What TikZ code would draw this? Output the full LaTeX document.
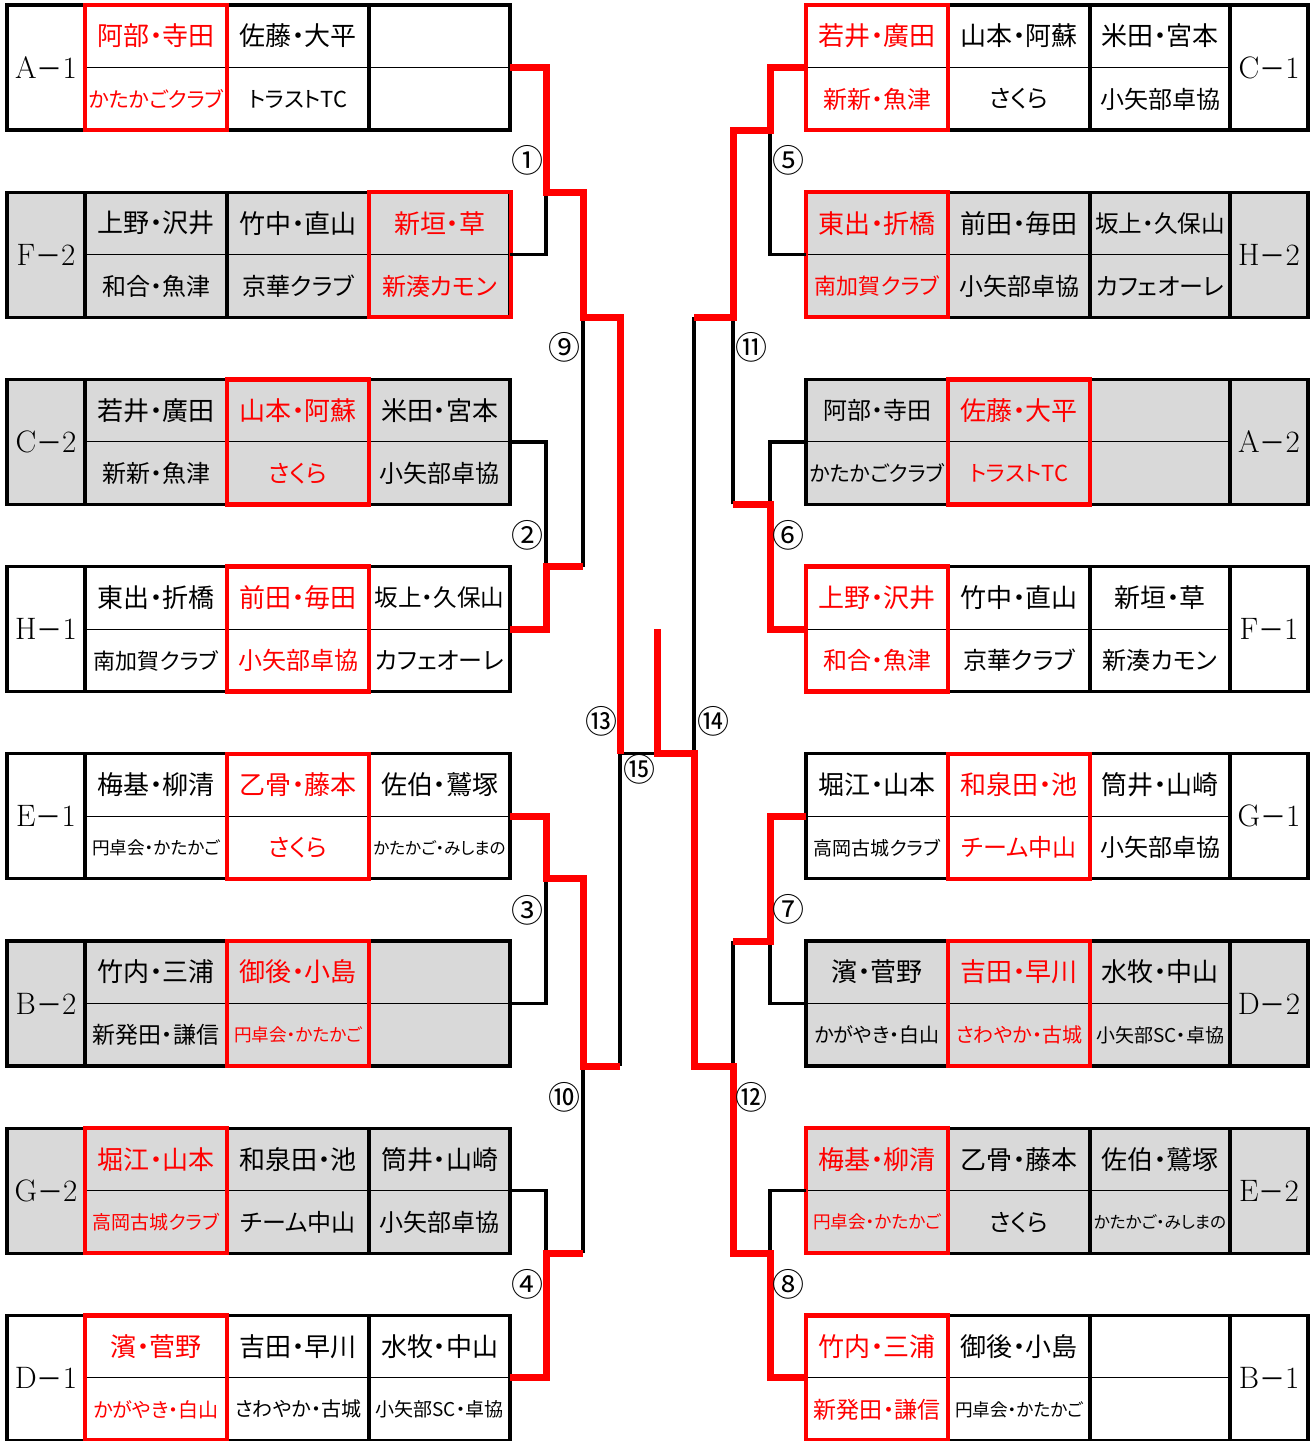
\documentclass[tikz,border=0pt]{standalone}
\usepackage{fontspec}
\newfontfamily\jp{Noto Sans CJK JP}[RawFeature=+palt]
\newfontfamily\jpc{Noto Sans CJK JP}
\newcommand\fz[1]{\fontsize{#1}{#1}\selectfont}
\definecolor{winred}{RGB}{255,0,0}
\definecolor{boxgray}{RGB}{217,217,217}
\tikzset{
  frame/.style={draw=black,line width=1.6pt},
  sepline/.style={draw=black,line width=0.5pt},
  winbox/.style={draw=winred,line width=2.2pt},
  blk/.style={draw=black,line width=1.6pt,line join=miter},
  rd/.style={draw=winred,line width=3.5pt,line join=miter},
  nm/.style={font=\jp\fz{13},inner sep=0pt},
  lab/.style={font=\fz{15.5},inner sep=0pt},
  num/.style={font=\jpc\fz{16},inner sep=0pt}
}
\begin{document}
\begin{tikzpicture}[x=0.5pt,y=-0.5pt]
\useasboundingbox (0,0) rectangle (1316,1441);
\fill[white] (0,0) rectangle (1316,1441);
% ---------- left boxes
\foreach \i/\LL/\NN/\FC/\W/\TA/\TB/\TC/\BA/\BB/\BC in {
0/A/1/white/1/阿部・寺田/佐藤・大平/{}/{\fz{10.5}かたかごクラブ}/{\fz{11}トラストTC}/{},
1/F/2/boxgray/3/上野・沢井/竹中・直山/新垣・草/{\fz{12}和合・魚津}/{\fz{12}京華クラブ}/{\fz{12}新湊カモン},
2/C/2/boxgray/2/若井・廣田/山本・阿蘇/米田・宮本/{\fz{12}新新・魚津}/{\fz{12}さくら}/{\fz{12}小矢部卓協},
3/H/1/white/2/東出・折橋/前田・毎田/{\fz{11.8}坂上・久保山}/{\fz{11}南加賀クラブ}/{\fz{12}小矢部卓協}/{\fz{12}カフェオーレ},
4/E/1/white/2/梅基・柳清/乙骨・藤本/佐伯・鷲塚/{\fz{8.8}円卓会・かたかご}/{\fz{12}さくら}/{\fz{8.3}かたかご・みしまの},
5/B/2/boxgray/2/竹内・三浦/御後・小島/{}/{\fz{11.5}新発田・謙信}/{\fz{8.8}円卓会・かたかご}/{},
6/G/2/boxgray/1/堀江・山本/和泉田・池/筒井・山崎/{\fz{9.5}高岡古城クラブ}/{\fz{12}チーム中山}/{\fz{12}小矢部卓協},
7/D/1/white/1/濱・菅野/吉田・早川/水牧・中山/{\fz{10}かがやき・白山}/{\fz{10}さわやか・古城}/{\fz{9.5}小矢部SC・卓協}}{
  \pgfmathsetmacro\Y{5+187.2*\i}
  \pgfmathsetmacro\X{85+142*(\W-1)}
  \ifnum\W=1 \def\cA{winred}\else\def\cA{black}\fi
  \ifnum\W=2 \def\cB{winred}\else\def\cB{black}\fi
  \ifnum\W=3 \def\cC{winred}\else\def\cC{black}\fi
  \fill[\FC] (7,\Y) rectangle (510,\Y+125);
  \draw[sepline] (85,\Y+62.5) -- (510,\Y+62.5);
  \draw[frame] (7,\Y) rectangle (510,\Y+125);
  \draw[frame] (85,\Y) -- (85,\Y+125) (227,\Y) -- (227,\Y+125) (369,\Y) -- (369,\Y+125);
  \draw[winbox] (\X,\Y) rectangle (\X+142,\Y+125);
  \node[lab] (L\i-lab) at (46,\Y+62.5) {\LL{\jpc\fz{13}－}\NN};
  \node[nm,text=\cA] (L\i-t1) at (156,\Y+31) {\TA};
  \node[nm,text=\cB] (L\i-t2) at (298,\Y+31) {\TB};
  \node[nm,text=\cC] (L\i-t3) at (439.5,\Y+31) {\TC};
  \node[nm,text=\cA] (L\i-b1) at (156,\Y+94) {\BA};
  \node[nm,text=\cB] (L\i-b2) at (298,\Y+94) {\BB};
  \node[nm,text=\cC] (L\i-b3) at (439.5,\Y+94) {\BC};
  \coordinate (L\i) at (510,\Y+62.5);
}
% ---------- right boxes
\foreach \i/\LL/\NN/\FC/\W/\TA/\TB/\TC/\BA/\BB/\BC in {
0/C/1/white/1/若井・廣田/山本・阿蘇/米田・宮本/{\fz{12}新新・魚津}/{\fz{12}さくら}/{\fz{12}小矢部卓協},
1/H/2/boxgray/1/東出・折橋/前田・毎田/{\fz{11.8}坂上・久保山}/{\fz{11}南加賀クラブ}/{\fz{12}小矢部卓協}/{\fz{12}カフェオーレ},
2/A/2/boxgray/2/{\fz{12}阿部・寺田}/佐藤・大平/{}/{\fz{10.5}かたかごクラブ}/{\fz{11}トラストTC}/{},
3/F/1/white/1/上野・沢井/竹中・直山/新垣・草/{\fz{12}和合・魚津}/{\fz{12}京華クラブ}/{\fz{12}新湊カモン},
4/G/1/white/2/堀江・山本/和泉田・池/筒井・山崎/{\fz{9.5}高岡古城クラブ}/{\fz{12}チーム中山}/{\fz{12}小矢部卓協},
5/D/2/boxgray/2/濱・菅野/吉田・早川/水牧・中山/{\fz{10}かがやき・白山}/{\fz{10}さわやか・古城}/{\fz{9.5}小矢部SC・卓協},
6/E/2/boxgray/1/梅基・柳清/乙骨・藤本/佐伯・鷲塚/{\fz{8.8}円卓会・かたかご}/{\fz{12}さくら}/{\fz{8.3}かたかご・みしまの},
7/B/1/white/1/竹内・三浦/御後・小島/{}/{\fz{11.5}新発田・謙信}/{\fz{8.8}円卓会・かたかご}/{}}{
  \pgfmathsetmacro\Y{5+187.2*\i}
  \pgfmathsetmacro\X{806+142*(\W-1)}
  \ifnum\W=1 \def\cA{winred}\else\def\cA{black}\fi
  \ifnum\W=2 \def\cB{winred}\else\def\cB{black}\fi
  \ifnum\W=3 \def\cC{winred}\else\def\cC{black}\fi
  \fill[\FC] (806,\Y) rectangle (1308,\Y+125);
  \draw[sepline] (806,\Y+62.5) -- (1230,\Y+62.5);
  \draw[frame] (806,\Y) rectangle (1308,\Y+125);
  \draw[frame] (948,\Y) -- (948,\Y+125) (1090,\Y) -- (1090,\Y+125) (1230,\Y) -- (1230,\Y+125);
  \draw[winbox] (\X,\Y) rectangle (\X+142,\Y+125);
  \node[lab] (R\i-lab) at (1269,\Y+62.5) {\LL{\jpc\fz{13}－}\NN};
  \node[nm,text=\cA] (R\i-t1) at (877,\Y+31) {\TA};
  \node[nm,text=\cB] (R\i-t2) at (1019,\Y+31) {\TB};
  \node[nm,text=\cC] (R\i-t3) at (1160,\Y+31) {\TC};
  \node[nm,text=\cA] (R\i-b1) at (877,\Y+94) {\BA};
  \node[nm,text=\cB] (R\i-b2) at (1019,\Y+94) {\BB};
  \node[nm,text=\cC] (R\i-b3) at (1160,\Y+94) {\BC};
  \coordinate (R\i) at (806,\Y+62.5);
}
% ---------- junction coordinates
\coordinate (j1) at (546,192.2);  \coordinate (k1) at (583,192.2);
\coordinate (j9) at (583,317.2);  \coordinate (o9) at (620,317.2);
\coordinate (j2) at (546,566.6);  \coordinate (k2) at (583,566.6);
\coordinate (j3) at (546,878.8);  \coordinate (k3) at (583,878.8);
\coordinate (j10) at (583,1066);  \coordinate (o10) at (620,1066);
\coordinate (j4) at (546,1253.2); \coordinate (k4) at (583,1253.2);
\coordinate (j13) at (620,753.8); \coordinate (fin) at (657,753.8);
\coordinate (champ) at (657,629.1); \coordinate (j14) at (694,753.8);
\coordinate (j5) at (770,130);    \coordinate (k5) at (733,130);
\coordinate (j11) at (733,317.2); \coordinate (o11) at (694,317.2);
\coordinate (j6) at (770,504.4);  \coordinate (k6) at (733,504.4);
\coordinate (j7) at (770,941);    \coordinate (k7) at (733,941);
\coordinate (j12) at (733,1066);  \coordinate (o12) at (694,1066);
\coordinate (j8) at (770,1253.2); \coordinate (k8) at (733,1253.2);
% ---------- black connectors
\draw[blk] (L1) -| (j1);
\draw[blk] (L2) -| (j2);
\draw[blk] (k2) -- (j9);
\draw[blk] (L5) -| (j3);
\draw[blk] (k4) -- (j10);
\draw[blk] (L6) -| (j4);
\draw[blk] (o10) -- (j13) -- (fin);
\draw[blk] (R1) -| (j5);
\draw[blk] (R2) -| (j6);
\draw[blk] (k6) -- (j11);
\draw[blk] (R5) -| (j7);
\draw[blk] (k7) -- (j12);
\draw[blk] (R6) -| (j8);
\draw[blk] (o11) -- (j14);
% ---------- red connectors
\draw[rd] (L0) -| (j1) -- (k1) -- (j9) -- (o9) -- (j13);
\draw[rd] (L3) -| (j2) -- (k2);
\draw[rd] (L4) -| (j3) -- (k3) -- (j10) -- (o10);
\draw[rd] (L7) -| (j4) -- (k4);
\draw[rd] (R0) -| (j5) -- (k5) -- (j11) -- (o11);
\draw[rd] (R3) -| (j6) -- (k6);
\draw[rd] (R4) -| (j7) -- (k7);
\draw[rd] (R7) -| (j8) -- (k8) -- (j12) -- (o12) -- (j14) -- (fin) -- (champ);
% ---------- match numbers
\node[num] (n1) at (527,160) {①};
\node[num] (n2) at (527,535) {②};
\node[num] (n3) at (527,910) {③};
\node[num] (n4) at (527,1284) {④};
\node[num] (n5) at (788,160) {⑤};
\node[num] (n6) at (788,535) {⑥};
\node[num] (n7) at (788,909) {⑦};
\node[num] (n8) at (788,1284) {⑧};
\node[num] (n9) at (564,347) {⑨};
\node[num] (n10) at (564,1097) {⑩};
\node[num] (n11) at (751,347) {⑪};
\node[num] (n12) at (751,1097) {⑫};
\node[num] (n13) at (601,721) {⑬};
\node[num] (n14) at (713,721) {⑭};
\node[num] (n15) at (639,769) {⑮};
\end{tikzpicture}
\end{document}
